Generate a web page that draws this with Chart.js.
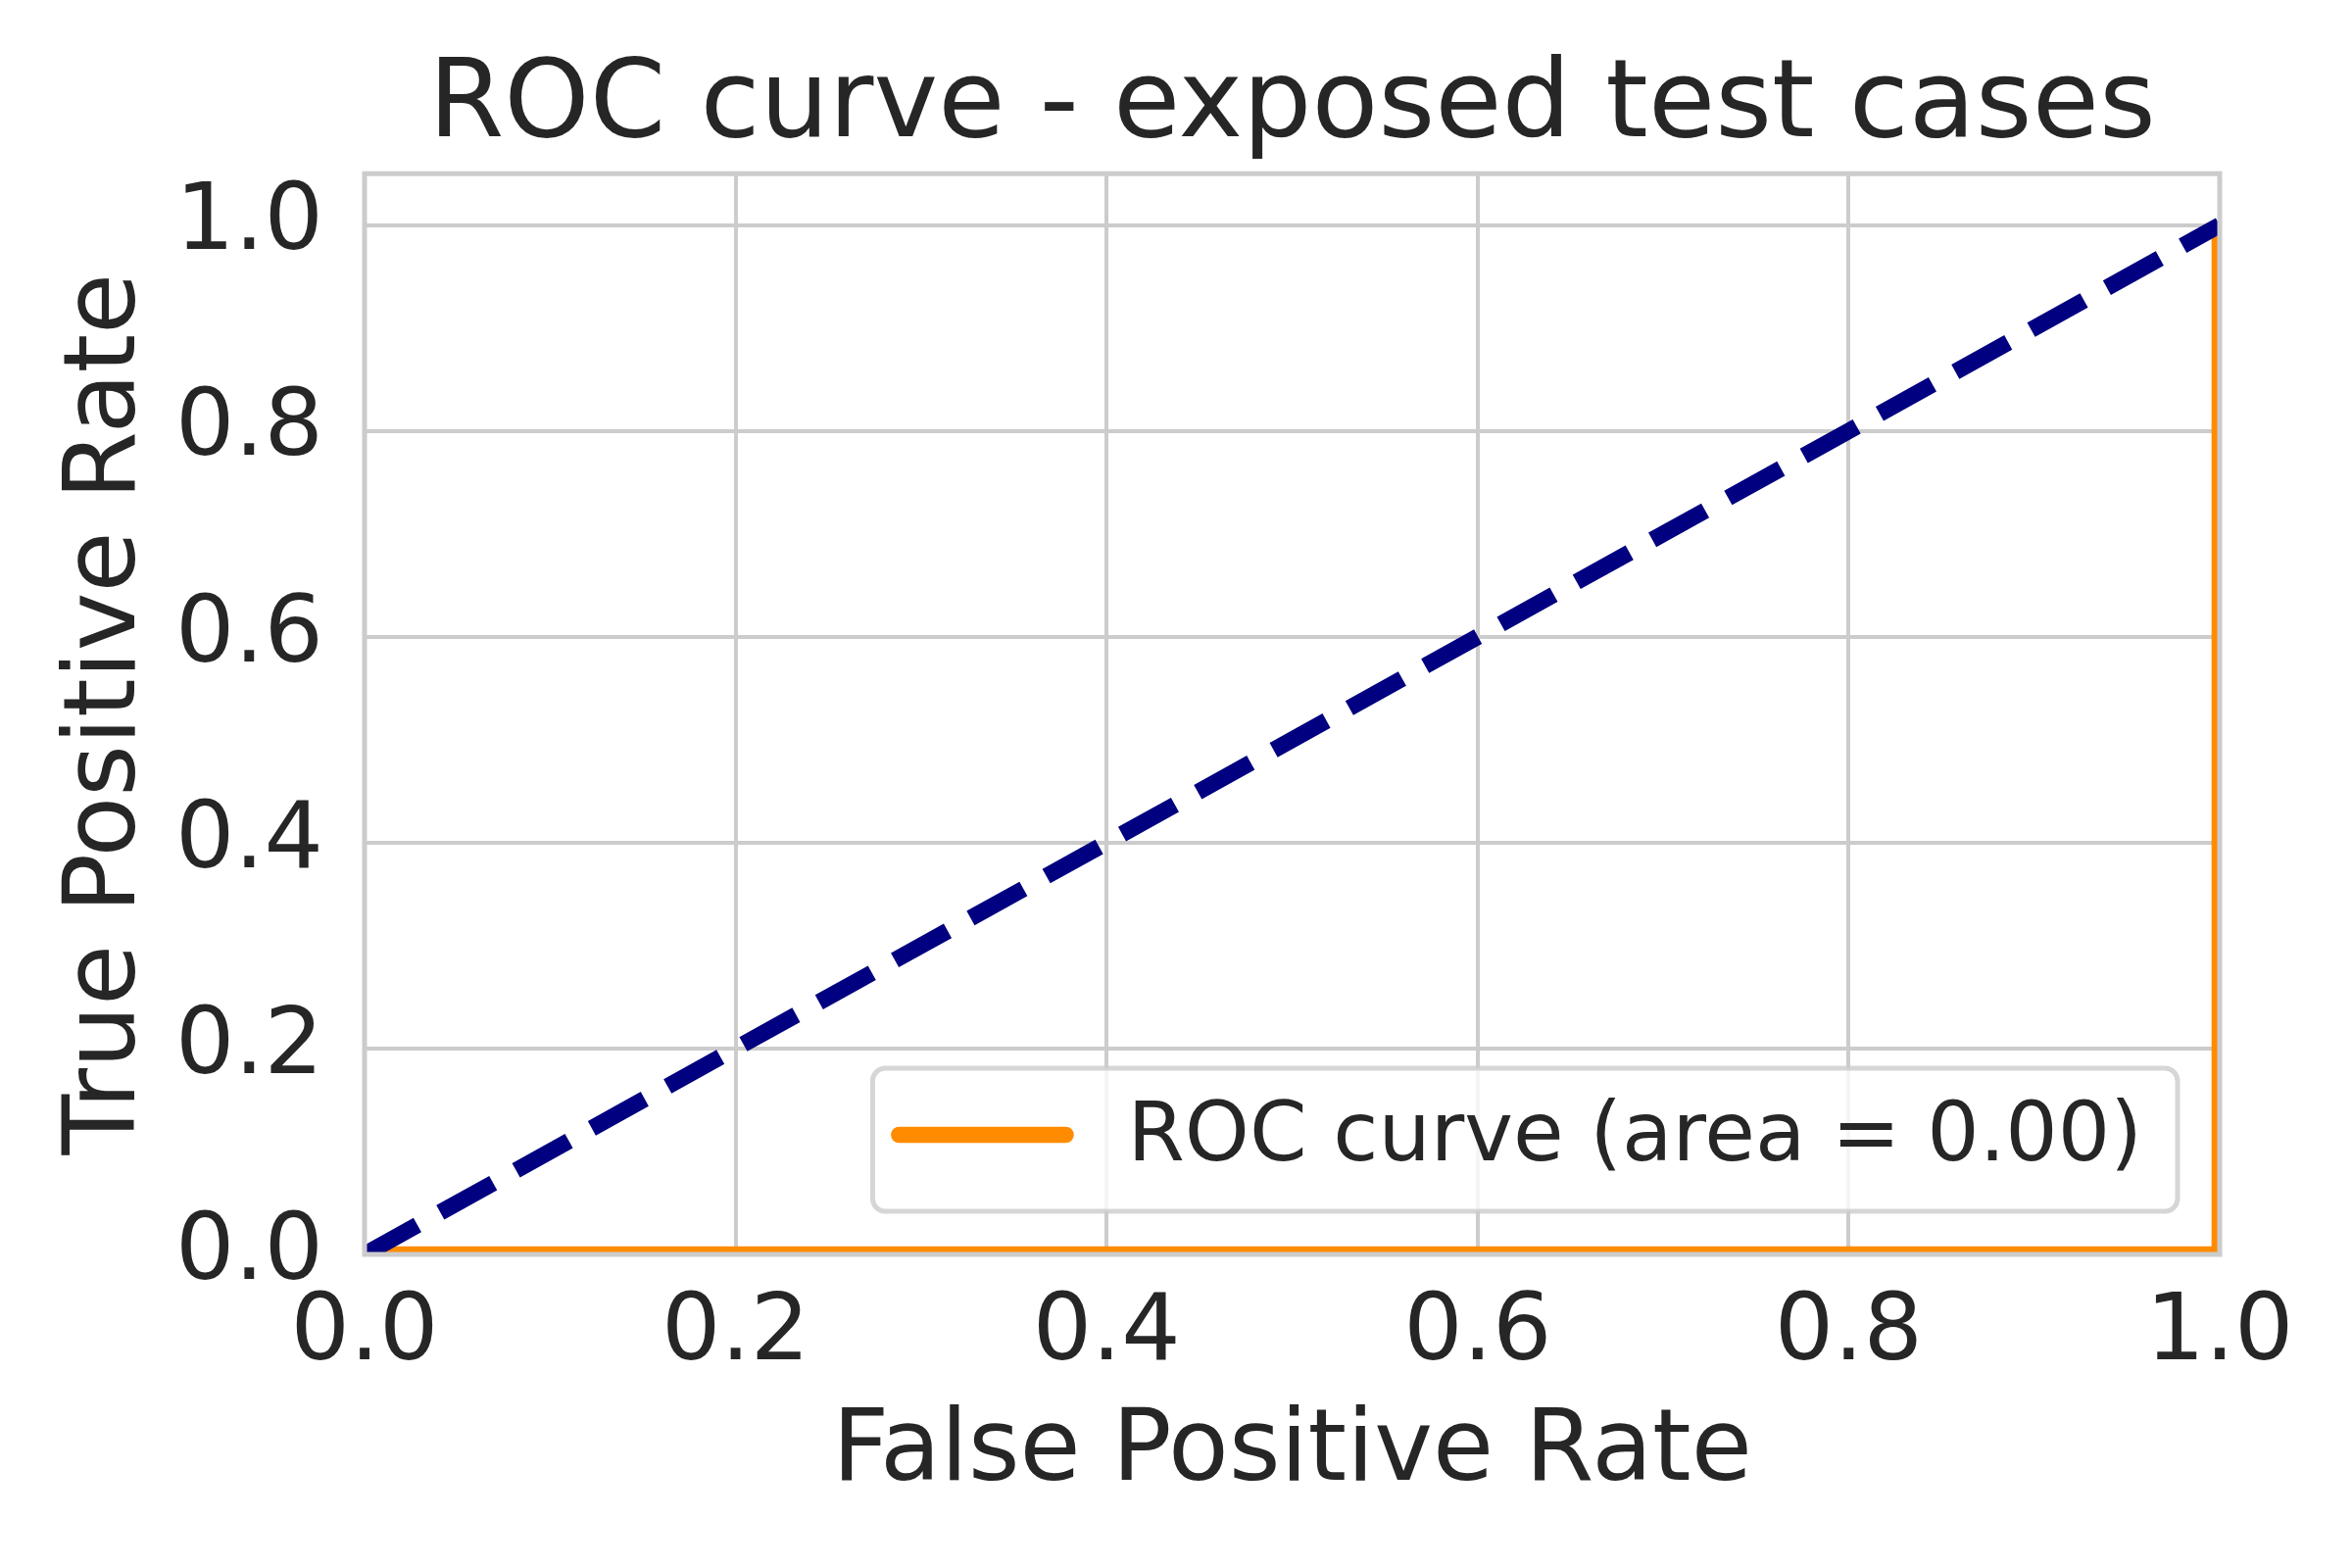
<!DOCTYPE html>
<html>
<head>
<meta charset="utf-8">
<title>ROC curve - exposed test cases</title>
<script src="https://cdn.jsdelivr.net/npm/chart.js@4.4.1/dist/chart.umd.min.js"></script>
<style>
    html, body { margin: 0; padding: 0; background: #ffffff; }
    #rocChart { display: block; }
</style>
</head>
<body>
<canvas id="rocChart" width="2400" height="1600"></canvas>
<script>
// ROC curve points
var rocFpr = [0.0, 1.0, 1.0];
var rocTpr = [0.0, 0.0, 1.0];
// chance diagonal
var chanceFpr = [0.0, 1.0];
var chanceTpr = [0.0, 1.0];
// tick positions
var xTickValues = [0.0, 0.2, 0.4, 0.6, 0.8, 1.0];
var yTickValues = [0.0, 0.2, 0.4, 0.6, 0.8, 1.0];
var rocLabel = 'ROC curve (area = 0.00)';

var textColor = '#262626';
var gridColor = '#cccccc';
var fontFamily = "'DejaVu Sans', sans-serif";

function toPoints(xs, ys) {
    var pts = [];
    for (var i = 0; i < xs.length; i++) {
        pts.push({ x: xs[i], y: ys[i] });
    }
    return pts;
}

function tickObjects(values) {
    return values.map(function (v) { return { value: v }; });
}

// four spines drawn over the lines, like the axes frame
var axesFramePlugin = {
    id: 'axesFrame',
    afterDatasetsDraw: function (chart) {
        var a = chart.chartArea;
        var ctx = chart.ctx;
        ctx.save();
        ctx.strokeStyle = gridColor;
        ctx.lineWidth = 5;
        ctx.strokeRect(a.left, a.top, a.right - a.left, a.bottom - a.top);
        ctx.restore();
    }
};

// legend box in the lower right corner of the plot area
var innerLegendPlugin = {
    id: 'innerLegend',
    afterDraw: function (chart) {
        var a = chart.chartArea;
        var ctx = chart.ctx;
        var ds = chart.data.datasets[1];
        ctx.save();
        ctx.font = '84px ' + fontFamily;
        var textW = ctx.measureText(ds.label).width;
        var boxH = 146;
        var boxW = 27 + 170 + 63 + textW + 36;
        var right = a.right - 43;
        var bottom = a.bottom - 44;
        var left = right - boxW;
        var top = bottom - boxH;

        ctx.beginPath();
        ctx.roundRect(left, top, boxW, boxH, 13);
        ctx.fillStyle = 'rgba(255,255,255,0.8)';
        ctx.fill();
        ctx.lineWidth = 5;
        ctx.strokeStyle = 'rgba(204,204,204,0.8)';
        ctx.stroke();

        var midY = top + 68;
        ctx.beginPath();
        ctx.moveTo(left + 27, midY);
        ctx.lineTo(left + 197, midY);
        ctx.lineCap = 'round';
        ctx.lineWidth = ds.borderWidth;
        ctx.strokeStyle = ds.borderColor;
        ctx.stroke();

        ctx.fillStyle = textColor;
        ctx.textAlign = 'left';
        ctx.textBaseline = 'middle';
        ctx.fillText(ds.label, left + 260, midY + 4);
        ctx.restore();
    }
};

var rocChart = new Chart(document.getElementById('rocChart'), {
    type: 'line',
    data: {
        datasets: [
            {
                label: 'chance',
                data: toPoints(chanceFpr, chanceTpr),
                borderColor: '#000080',
                borderWidth: 16.7,
                borderDash: [61.7, 26.7],
                borderCapStyle: 'butt',
                pointRadius: 0,
                fill: false,
                clip: 0
            },
            {
                label: rocLabel,
                data: toPoints(rocFpr, rocTpr),
                borderColor: '#ff8c00',
                borderWidth: 16.7,
                borderJoinStyle: 'miter',
                pointRadius: 0,
                fill: false,
                clip: 0
            }
        ]
    },
    options: {
        responsive: false,
        devicePixelRatio: 1,
        animation: false,
        layout: { padding: { left: 0, right: 135, top: 0, bottom: 0 } },
        plugins: {
            legend: { display: false },
            tooltip: { enabled: false },
            title: {
                display: true,
                fullSize: false,
                text: 'ROC curve - exposed test cases',
                color: textColor,
                font: { family: fontFamily, size: 111, weight: 'normal', lineHeight: 1.2 },
                padding: { top: 44, bottom: 0 }
            }
        },
        scales: {
            x: {
                type: 'linear',
                min: 0,
                max: 1,
                afterBuildTicks: function (scale) { scale.ticks = tickObjects(xTickValues); },
                afterFit: function (scale) { scale.height = 320; },
                grid: { color: gridColor, lineWidth: 4, drawTicks: false },
                border: { display: false },
                ticks: {
                    color: textColor,
                    font: { family: fontFamily, size: 95, lineHeight: 1.2 },
                    padding: 25,
                    maxRotation: 0,
                    callback: function (v) { return v.toFixed(1); }
                },
                title: {
                    display: true,
                    text: 'False Positive Rate',
                    color: textColor,
                    font: { family: fontFamily, size: 101, lineHeight: 1.2 },
                    padding: { top: 0, bottom: 56 }
                }
            },
            y: {
                type: 'linear',
                min: 0,
                max: 1.05,
                afterBuildTicks: function (scale) { scale.ticks = tickObjects(yTickValues); },
                afterFit: function (scale) { scale.width = 372; },
                grid: { color: gridColor, lineWidth: 4, drawTicks: false },
                border: { display: false },
                ticks: {
                    color: textColor,
                    font: { family: fontFamily, size: 95, lineHeight: 1.2 },
                    padding: 42,
                    callback: function (v) { return v.toFixed(1); }
                },
                title: {
                    display: true,
                    text: 'True Positive Rate',
                    color: textColor,
                    font: { family: fontFamily, size: 101, lineHeight: 1.2 },
                    padding: { top: 50, bottom: 0 }
                }
            }
        }
    },
    plugins: [axesFramePlugin, innerLegendPlugin]
});
</script>
</body>
</html>
